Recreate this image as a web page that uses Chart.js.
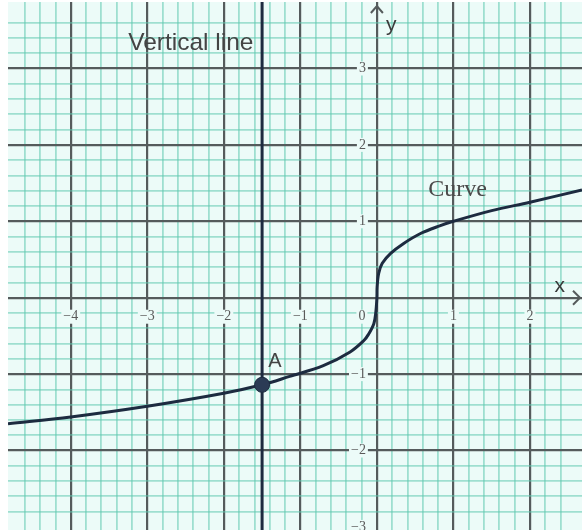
<!DOCTYPE html>
<html>
<head>
<meta charset="utf-8">
<script src="https://cdn.jsdelivr.net/npm/chart.js@4/dist/chart.umd.min.js"></script>
<style>
  html, body { margin: 0; padding: 0; background: #fff; }
  #wrap { width: 582px; height: 530px; }
</style>
</head>
<body>
<div id="wrap"><canvas id="graph"></canvas></div>
<script>
// valores
const curveX = [-4.82, -4, -3, -2, -1.5, -1.14, -0.7, -0.35, -0.17, -0.11, -0.04, -0.015, 0, 0.003, 0.024, 0.07, 0.18, 0.35, 0.57, 0.82, 1, 1.5, 2, 2.68];
const curveY = [-1.65, -1.56, -1.42, -1.25, -1.14, -1.03, -0.89, -0.71, -0.56, -0.48, -0.34, -0.2, 0, 0.14, 0.32, 0.45, 0.58, 0.71, 0.84, 0.94, 1.0, 1.14, 1.25, 1.41];
const lineX = [-1.5, -1.5];
const lineY = [-3.1, 3.9];
const pointA = { x: -1.5, y: -1.14 };
const xTicks = [-4, -3, -2, -1, 0, 1, 2];
const yTicks = [3, 2, 1, -1, -2, -3];

const xMin = -4.82, xMax = 2.68;
const yMin = -3.04, yMax = 3.87;

const corFundo = '#ecfbf8';
const corMaior = '#555b5c';
const corMenor = 'rgba(95, 200, 175, 0.55)';
const corLinha = '#1d2b40';

function ehMultiplo(v, passo) {
    const k = v / passo;
    return Math.abs(k - Math.round(k)) < 1e-6;
}
function corGrade(ctx) {
    const v = ctx.tick.value;
    if (ehMultiplo(v, 1)) return corMaior;
    if (ehMultiplo(v, 0.2)) return corMenor;
    return 'rgba(0,0,0,0)';
}
function larguraGrade(ctx) {
    const v = ctx.tick.value;
    return ehMultiplo(v, 1) ? 2.2 : 1.8;
}

// fundo da área do gráfico
const fundo = {
    id: 'fundo',
    beforeDraw(chart) {
        const { ctx, chartArea: a } = chart;
        ctx.save();
        ctx.fillStyle = corFundo;
        ctx.fillRect(a.left, a.top, a.right - a.left, a.bottom - a.top);
        ctx.restore();
    }
};

// rótulos dos eixos, setas e textos
const rotulos = {
    id: 'rotulos',
    beforeDatasetsDraw(chart) {
        const { ctx, scales: { x, y } } = chart;
        const x0 = x.getPixelForValue(0);
        const y0 = y.getPixelForValue(0);
        ctx.save();
        ctx.font = '14px "Liberation Serif", serif';
        ctx.textBaseline = 'middle';
        ctx.textAlign = 'center';
        xTicks.forEach(v => {
            const t = v < 0 ? '\u2212' + Math.abs(v) : String(v);
            let px = x.getPixelForValue(v);
            if (v === 0) px -= 15;
            const py = y0 + 19;
            const w = ctx.measureText(t).width;
            ctx.fillStyle = corFundo;
            ctx.fillRect(px - w / 2 - 2, py - 7, w + 4, 14);
            ctx.fillStyle = '#5a5a5a';
            ctx.fillText(t, px, py);
        });
        ctx.textAlign = 'right';
        yTicks.forEach(v => {
            const t = v < 0 ? '\u2212' + Math.abs(v) : String(v);
            const px = x0 - 11;
            const py = y.getPixelForValue(v);
            const w = ctx.measureText(t).width;
            ctx.fillStyle = corFundo;
            ctx.fillRect(px - w - 2, py - 7, w + 4, 14);
            ctx.fillStyle = '#5a5a5a';
            ctx.fillText(t, px, py);
        });
        // setas dos eixos
        ctx.strokeStyle = corMaior;
        ctx.lineWidth = 2;
        const xr = x.right - 2;
        ctx.beginPath();
        ctx.moveTo(xr - 7, y0 - 7);
        ctx.lineTo(xr, y0);
        ctx.lineTo(xr - 7, y0 + 7);
        ctx.stroke();
        const yt = y.top + 4;
        ctx.beginPath();
        ctx.moveTo(x0 - 6, yt + 7);
        ctx.lineTo(x0, yt);
        ctx.lineTo(x0 + 6, yt + 7);
        ctx.stroke();
        // nomes
        ctx.fillStyle = '#3a3a3a';
        ctx.textAlign = 'left';
        ctx.font = '21px "Liberation Sans", sans-serif';
        ctx.fillText('x', x.getPixelForValue(2.32), y0 - 12);
        ctx.fillText('y', x0 + 9, y.getPixelForValue(3.57));
        ctx.fillStyle = '#444';
        ctx.font = '24.5px "Liberation Sans", sans-serif';
        ctx.fillText('Vertical line', x.getPixelForValue(-3.25), y.getPixelForValue(3.33));
        ctx.font = '20px "Liberation Sans", sans-serif';
        ctx.fillText('A', x.getPixelForValue(-1.42), y.getPixelForValue(-0.84));
        ctx.font = '24px "Liberation Serif", serif';
        ctx.fillStyle = '#4a4a4a';
        ctx.fillText('Curve', x.getPixelForValue(0.67), y.getPixelForValue(1.41));
        ctx.restore();
    }
};

const ctx = document.getElementById('graph').getContext('2d');
const grafico = new Chart(ctx, {
    type: 'scatter',
    data: {
        datasets: [
            {
                label: 'Curve',
                data: curveX.map((v, i) => ({ x: v, y: curveY[i] })),
                showLine: true,
                borderColor: corLinha,
                borderWidth: 3,
                pointRadius: 0,
                tension: 0.35,
                order: 2
            },
            {
                label: 'Vertical line',
                data: lineX.map((v, i) => ({ x: v, y: lineY[i] })),
                showLine: true,
                borderColor: corLinha,
                borderWidth: 3,
                pointRadius: 0,
                order: 3
            },
            {
                label: 'A',
                data: [pointA],
                pointRadius: 7.5,
                backgroundColor: '#2b3b55',
                borderColor: '#1d2b40',
                borderWidth: 1,
                order: 1
            }
        ]
    },
    options: {
        responsive: true,
        maintainAspectRatio: false,
        animation: false,
        events: [],
        layout: { autoPadding: false, padding: { left: 8, top: 2, right: 0, bottom: 0 } },
        plugins: {
            legend: { display: false },
            tooltip: { enabled: false }
        },
        scales: {
            x: {
                type: 'linear',
                min: xMin,
                max: xMax,
                ticks: { display: false, stepSize: 0.2 },
                border: { display: false },
                grid: { color: corGrade, lineWidth: larguraGrade, drawTicks: false }
            },
            y: {
                type: 'linear',
                min: yMin,
                max: yMax,
                ticks: { display: false, stepSize: 0.2 },
                border: { display: false },
                grid: { color: corGrade, lineWidth: larguraGrade, drawTicks: false }
            }
        }
    },
    plugins: [fundo, rotulos]
});
</script>
</body>
</html>
